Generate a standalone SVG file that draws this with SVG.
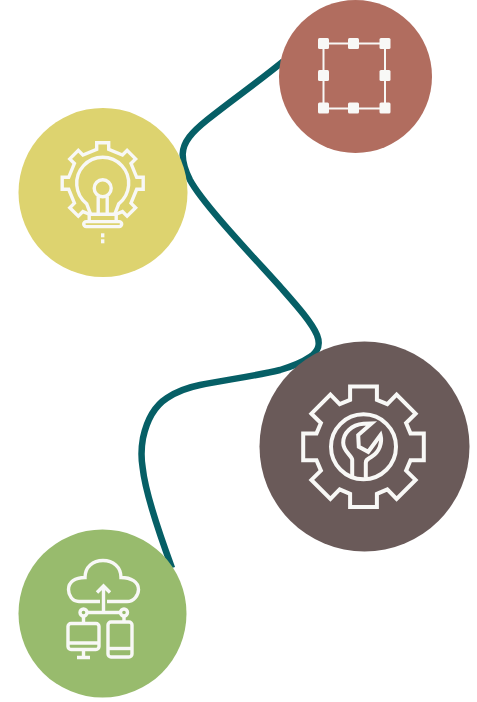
<svg xmlns="http://www.w3.org/2000/svg" width="477" height="702" viewBox="0 0 477 702">
<style>
.i{fill:none;stroke:#f8f8f6;stroke-width:3.400;stroke-linejoin:miter}
.g{stroke-width:4}
.s{fill:#f8f8f6}
.c{fill:none;stroke:#065f66;stroke-width:6.500;stroke-linecap:butt}
</style>
<rect width="477" height="702" fill="#fff"/>
<g id="connectors">
<path class="c" d="M283 61.500C258 82 232 100 207 120C192 132 183 142 182.700 154C182.500 164 186 172 190 180C204 206 262 266 283 290C298 307 312 323 317 335C320.500 344 319 351 310 357C300 364 290 367 280 370C255 376 225 380 200 385C185 388 176 392 167 398C153 407 146 424 143 438C141 449 141 458 142.700 468C145 490 158 530 172 568"/>
</g>
<g id="node-idea">
<circle cx="103" cy="192.500" r="84.500" fill="#ddd36f"/>
<g transform="translate(102.700 183.300)">
<path class="i" d="M-13.300 31L-19.800 28.300L-24.400 32.900L-32.900 24.400L-28.300 19.800L-34 6L-40.500 6L-40.500 -6L-34 -6L-28.300 -19.800L-32.900 -24.400L-24.400 -32.900L-19.800 -28.300L-6 -34L-6 -40.500L6 -40.500L6 -34L19.800 -28.300L24.400 -32.900L32.900 -24.400L28.300 -19.800L34 -6L40.500 -6L40.500 6L34 6L28.300 19.800L32.900 24.400L24.400 32.900L19.800 28.300L13.300 31"/>
<path class="i" d="M-12 31L-16 20.500A26 26 0 1 1 16 20.500L12 31"/>
<circle class="i" cx="0" cy="5" r="8.500"/>
<path class="i" d="M-4.500 13V31M4.500 13V31M-13.500 31H13.500M-13.500 31V38M13.500 31V38"/>
<rect class="i" x="-19" y="38.300" width="38" height="5" rx="2.500"/>
<rect class="s" x="-1.700" y="50" width="3.400" height="4"/>
<rect class="s" x="-1.700" y="56" width="3.400" height="4"/>
</g>
</g>
<g id="node-shape">
<circle cx="355.500" cy="76.500" r="76.500" fill="#b16d5f"/>
<rect x="323.500" y="43.500" width="61.500" height="65" fill="none" stroke="#f8f8f6" stroke-width="2"/>
<g class="s">
<rect x="318" y="38" width="11" height="11" rx="1.500"/>
<rect x="348" y="38" width="11" height="11" rx="1.500"/>
<rect x="379.500" y="38" width="11" height="11" rx="1.500"/>
<rect x="318" y="70" width="11" height="11" rx="1.500"/>
<rect x="379.500" y="70" width="11" height="11" rx="1.500"/>
<rect x="318" y="102.500" width="11" height="11" rx="1.500"/>
<rect x="348" y="102.500" width="11" height="11" rx="1.500"/>
<rect x="379.500" y="102.500" width="11" height="11" rx="1.500"/>
</g>
</g>
<g id="node-settings">
<circle cx="364.500" cy="446.500" r="105" fill="#6a5a59"/>
<g transform="translate(363.500 446.800)">
<path class="i g" d="M-13.400 -47L-13.400 -60.300L13.400 -60.300L13.400 -47L23.800 -42.600L33.100 -52.100L52.100 -33.100L42.600 -23.800L47 -13.400L60.300 -13.400L60.300 13.400L47 13.400L42.600 23.800L52.100 33.100L33.100 52.100L23.800 42.600L13.400 47L13.400 60.300L-13.400 60.300L-13.400 47L-23.800 42.600L-33.100 52.100L-52.100 33.100L-42.600 23.800L-47 13.400L-60.300 13.400L-60.300 -13.400L-47 -13.400L-42.600 -23.800L-52.100 -33.100L-33.100 -52.100L-23.800 -42.600Z"/>
<circle class="i g" cx="0" cy="0" r="32.500"/>
<path class="i g" d="M-11.300 31V13C-11.300 9 -20.300 5 -20.300 -4C-20.300 -14 -12 -22 0 -23L8 -23.300L-5.300 -11.700L-4.700 0L4.700 5L17 -11.700C19 -4 16 5 8 10C4 12.500 2.300 13 2.300 16V31"/>
</g>
</g>
<g id="node-cloud">
<circle cx="102.500" cy="613.500" r="84" fill="#98bb6d"/>
<path class="i" d="M100 601.500H79C72 601.500 68.500 595 68.500 589.500C68.500 582 75 577.500 85 577.500C85 567 93 560.500 103 560.500C113 560.500 121 567 121 577.500C131 577.500 138.500 582 138.500 589.500C138.500 595 134 601.500 127 601.500H107"/>
<path class="i" d="M103.500 612V586M97 592.500L103.500 586L110 592.500M87 612.500H120"/>
<circle class="i" cx="83.500" cy="612.500" r="3.500"/>
<circle class="i" cx="124" cy="612.500" r="3.500"/>
<path class="i" d="M83.500 616V623M124 616V622"/>
<rect class="i" x="68" y="623.500" width="31" height="26" rx="3"/>
<path class="i" d="M68 643H99M83.500 650V657M77 657.500H90"/>
<rect class="i" x="108" y="622" width="24" height="35" rx="3"/>
<path class="i" d="M108 648.500H132"/>
</g>
</svg>
